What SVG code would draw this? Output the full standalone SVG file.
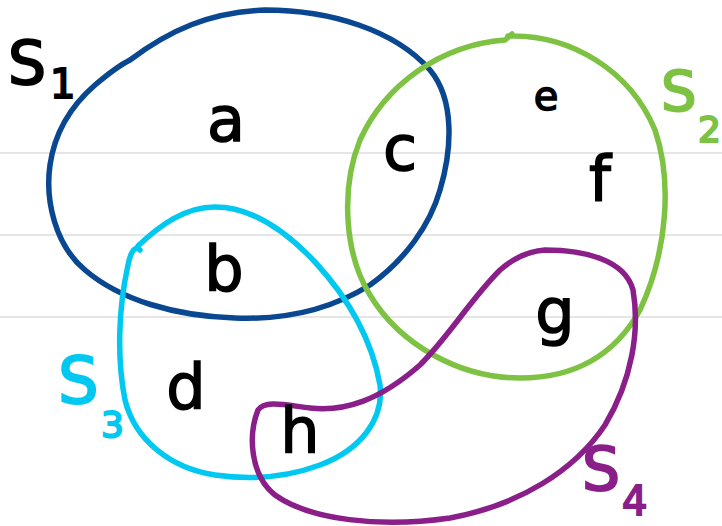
<svg xmlns="http://www.w3.org/2000/svg" width="722" height="526" viewBox="0 0 722 526">
<style>
.set{fill:none;stroke-width:5.5;stroke-linecap:round;stroke-linejoin:round}
.lbl{font-family:"DejaVu Sans","Liberation Sans",sans-serif;font-size:62px;fill:#000;stroke:#000;stroke-width:1.5;text-anchor:middle}
.sl{font-family:"DejaVu Sans","Liberation Sans",sans-serif;font-size:60px;stroke-width:2}
.sub{font-size:40px}
</style>
<rect width="722" height="526" fill="#fff"/>
<g id="ruling" stroke="#e6e6e6" stroke-width="2">
<line x1="0" y1="153" x2="722" y2="153"/>
<line x1="0" y1="235" x2="722" y2="235"/>
<line x1="0" y1="317" x2="722" y2="317"/>
</g>
<g id="connectors"></g>
<g id="S1">
<path class="set" stroke="#0a4791" d="M130,60 C170,30 210,12 265,10 C330,10 395,30 430,70 C455,100 452,150 440,190 C430,225 405,260 370,285 C330,310 285,320 235,318 C175,316 120,300 85,270 C55,245 45,200 50,165 C55,130 72,105 95,85 C108,74 118,66 130,60"/>
<text class="sl" x="8" y="84" fill="#000" stroke="#000">S</text>
<text class="sl sub" x="50" y="98" fill="#000" stroke="#000">1</text>
</g>
<g id="S2">
<path class="set" stroke="#7dc242" d="M508,36 C570,34 630,70 655,130 C672,180 668,250 640,310 C615,355 575,378 520,378 C460,378 400,345 370,295 C345,255 340,190 360,140 C385,85 440,45 505,40 L512,34"/>
<text class="sl" x="661" y="110" fill="#7dc242" stroke="#7dc242" style="font-size:56px">S</text>
<text class="sl" x="698" y="142" fill="#7dc242" stroke="#7dc242" style="font-size:36px">2</text>
</g>
<g id="S3">
<path class="set" stroke="#00c8f0" d="M138,246 C160,225 185,207 215,207 C250,207 285,230 315,262 C350,300 372,340 380,385 C384,420 360,450 320,465 C285,478 250,480 215,475 C170,468 135,440 125,400 C117,360 118,310 128,265 C131,250 136,245 140,250"/>
<text class="sl" x="58" y="403" fill="#00c8f0" stroke="#00c8f0" style="font-size:64px">S</text>
<text class="sl sub" x="101" y="437" fill="#00c8f0" stroke="#00c8f0" style="font-size:36px">3</text>
</g>
<g id="S4">
<path class="set" stroke="#8a1f8a" d="M545,250 C585,250 625,260 633,290 C640,330 632,380 605,425 C575,470 520,505 450,518 C380,528 310,520 275,495 C250,475 248,435 258,410 C265,400 285,405 310,408 C345,412 380,400 420,365 C450,335 470,300 500,270 C515,257 530,251 545,250 Z"/>
<text class="sl" x="582" y="490" fill="#8a1f8a" stroke="#8a1f8a">S</text>
<text class="sl sub" x="622" y="515" fill="#8a1f8a" stroke="#8a1f8a">4</text>
</g>
<g id="elements">
<text class="lbl" x="226" y="141">a</text>
<text class="lbl" x="224" y="290">b</text>
<text class="lbl" x="400" y="170">c</text>
<text class="lbl" x="546" y="110" style="font-size:40px">e</text>
<text class="lbl" x="600" y="200">f</text>
<text class="lbl" x="555" y="333">g</text>
<text class="lbl" x="186" y="408">d</text>
<text class="lbl" x="300" y="452">h</text>
</g>
</svg>
